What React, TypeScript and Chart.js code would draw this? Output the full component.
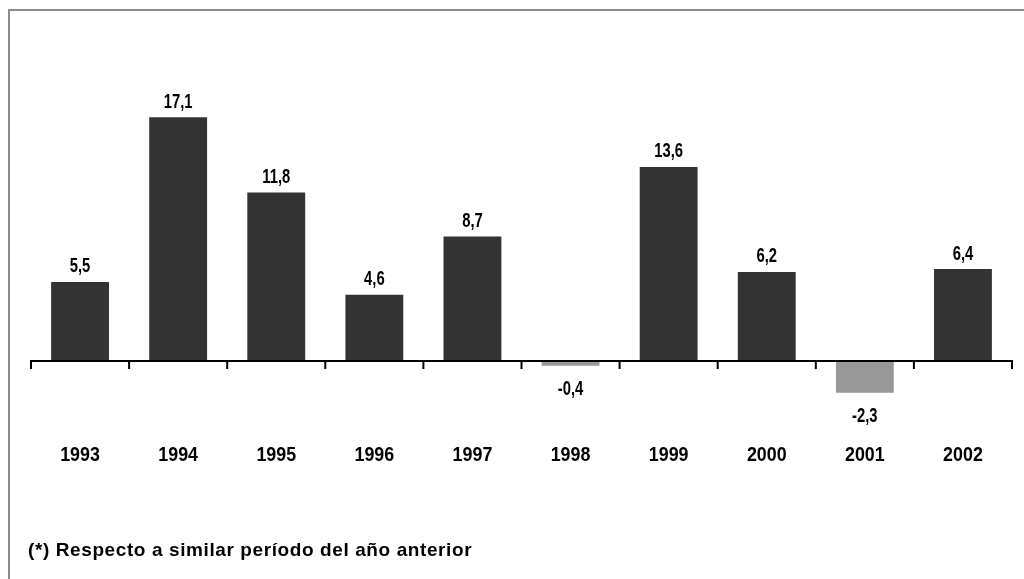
import React, { useEffect, useRef } from "react";
import { Chart, registerables } from "chart.js";

Chart.register(...registerables);

const years = ["1993", "1994", "1995", "1996", "1997", "1998", "1999", "2000", "2001", "2002"];
const growth = [5.5, 17.1, 11.8, 4.6, 8.7, -0.4, 13.6, 6.2, -2.3, 6.4];
const yMin = -5;
const yMax = 20;
const footnote = "(*) Respecto a similar período del año anterior";

const POS_COLOR = "#333333";
const NEG_COLOR = "#999999";
const FONT = "'Liberation Sans', Arial, sans-serif";

const fmt = (v: number) => v.toFixed(1).replace(".", ",");

function condensedText(ctx: CanvasRenderingContext2D, text: string, x: number, y: number, sx: number) {
  ctx.save();
  ctx.translate(x, y);
  ctx.scale(sx, 1);
  ctx.fillText(text, 0, 0);
  ctx.restore();
}

const zeroAxisPlugin = {
  id: "zeroAxis",
  afterDatasetsDraw(chart: any) {
    const { ctx, chartArea, scales } = chart;
    const y0 = scales.y.getPixelForValue(0) + 1;
    const left = chartArea.left;
    const right = chartArea.right;
    const n = years.length;
    const step = (right - left) / n;
    ctx.save();
    ctx.strokeStyle = "#000";
    ctx.lineWidth = 2;
    ctx.beginPath();
    ctx.moveTo(left - 1, y0);
    ctx.lineTo(right + 1, y0);
    for (let i = 0; i <= n; i++) {
      const tx = left + i * step;
      ctx.moveTo(tx, y0);
      ctx.lineTo(tx, y0 + 8);
    }
    ctx.stroke();

    ctx.fillStyle = "#000";
    ctx.textAlign = "center";
    ctx.textBaseline = "middle";

    // value labels
    ctx.font = `bold 20px ${FONT}`;
    const meta = chart.getDatasetMeta(0);
    meta.data.forEach((bar: any, i: number) => {
      const v = growth[i];
      const ty = v >= 0 ? bar.y - 15 : bar.y + 24;
      condensedText(ctx, fmt(v), bar.x, ty, 0.74);
    });

    // category labels
    ctx.font = `bold 21px ${FONT}`;
    years.forEach((yr, i) => {
      const cx = scales.x.getPixelForValue(i);
      condensedText(ctx, yr, cx, 455, 0.85);
    });
    ctx.restore();
  },
};

export default function App() {
  const canvasRef = useRef<HTMLCanvasElement | null>(null);

  useEffect(() => {
    if (!canvasRef.current) return;
    const chart = new Chart(canvasRef.current, {
      type: "bar",
      data: {
        labels: years,
        datasets: [
          {
            data: growth,
            backgroundColor: growth.map((v) => (v >= 0 ? POS_COLOR : NEG_COLOR)),
            borderWidth: 0,
            categoryPercentage: 1,
            barPercentage: 0.59,
          },
        ],
      },
      options: {
        responsive: false,
        animation: false,
        layout: { padding: { left: 31, right: 12, top: 76, bottom: 0 } },
        plugins: {
          legend: { display: false },
          tooltip: { enabled: false },
          title: { display: false },
        },
        scales: {
          x: {
            grid: { display: false },
            border: { display: false },
            ticks: { display: false },
            afterFit: (scale: any) => {
              scale.height = 148;
            },
          },
          y: {
            display: false,
            min: yMin,
            max: yMax,
          },
        },
      },
      plugins: [zeroAxisPlugin],
    });
    return () => chart.destroy();
  }, []);

  return (
    <div style={{ position: "absolute", left: 0, top: 0, width: 1024, height: 579, overflow: "hidden", background: "#fff" }}>
      <div
        style={{
          position: "absolute",
          left: 8,
          top: 9,
          width: 1016,
          height: 570,
          boxSizing: "border-box",
          borderLeft: "2px solid #8c8c8c",
          borderTop: "2px solid #8c8c8c",
        }}
      />
      <canvas ref={canvasRef} width={1024} height={579} style={{ position: "absolute", left: 0, top: 0 }} />
      <div
        style={{
          position: "absolute",
          left: 28,
          top: 539,
          fontFamily: FONT,
          fontWeight: "bold",
          fontSize: 19,
          letterSpacing: "0.6px",
          lineHeight: "21px",
          color: "#000",
          whiteSpace: "nowrap",
        }}
      >
        {footnote}
      </div>
    </div>
  );
}
